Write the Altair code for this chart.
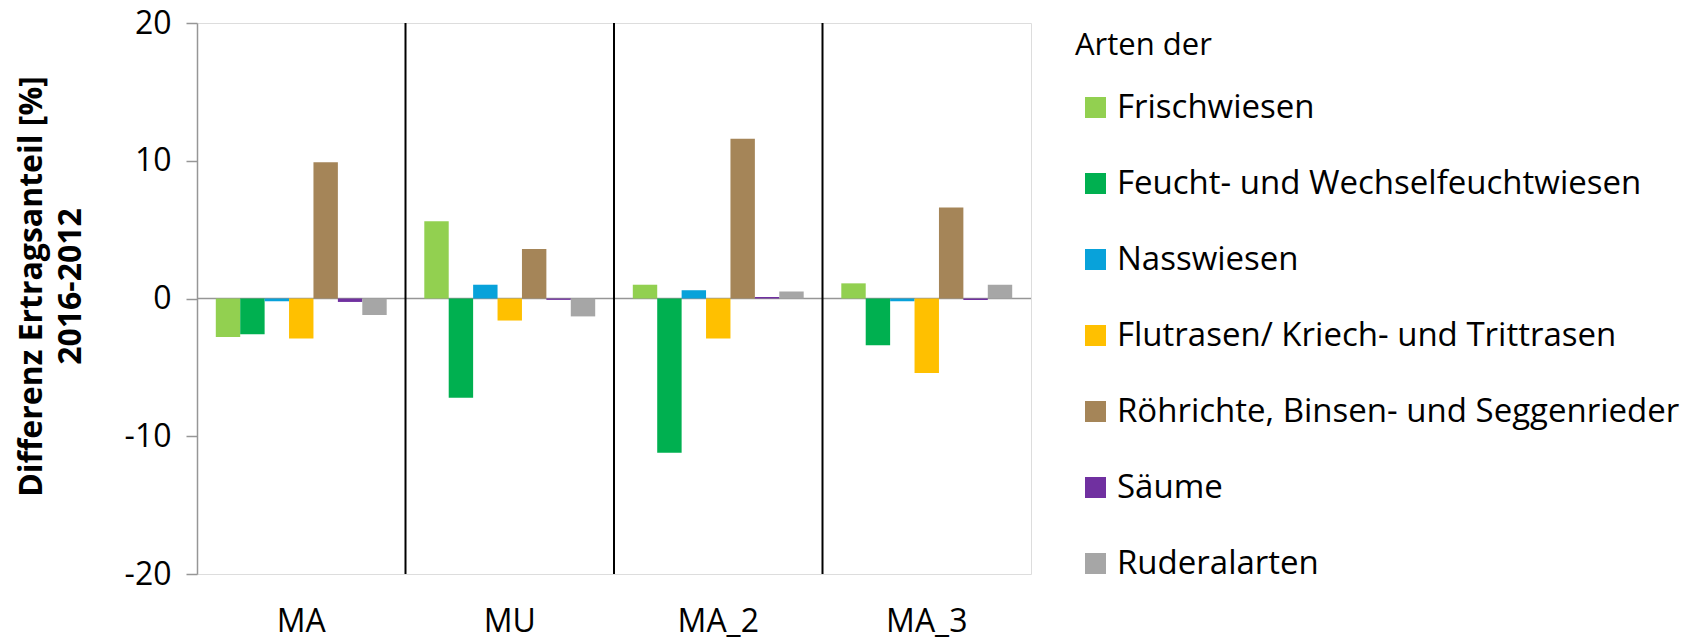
import altair as alt
import pandas as pd

# Plots (x groups) and species groups (colour series)
flaechen = ["MA", "MU", "MA_2", "MA_3"]
arten = [
    "Frischwiesen",
    "Feucht- und Wechselfeuchtwiesen",
    "Nasswiesen",
    "Flutrasen/ Kriech- und Trittrasen",
    "Röhrichte, Binsen- und Seggenrieder",
    "Säume",
    "Ruderalarten",
]

# Difference in yield share 2016-2012 [%], one value per plot
frischwiesen = [-2.8, 5.6, 1.0, 1.1]
feuchtwiesen = [-2.6, -7.2, -11.2, -3.4]
nasswiesen = [-0.2, 1.0, 0.6, -0.2]
flutrasen = [-2.9, -1.6, -2.9, -5.4]
roehrichte = [9.9, 3.6, 11.6, 6.6]
saeume = [-0.25, -0.1, 0.1, -0.1]
ruderalarten = [-1.2, -1.3, 0.5, 1.0]

farben = ["#92D050", "#00B050", "#08A2DA", "#FFC000", "#A58558", "#7030A0", "#A6A6A6"]

y_ticks = [-20, -10, 0, 10, 20]
grenzen = ["MU", "MA_2", "MA_3"]

serien = [frischwiesen, feuchtwiesen, nasswiesen, flutrasen, roehrichte, saeume, ruderalarten]
rows = []
for art, werte in zip(arten, serien):
    for fl, v in zip(flaechen, werte):
        rows.append({"Fläche": fl, "Art": art, "Differenz": v})
df = pd.DataFrame(rows)

FONT = "Open Sans"
GRAU = "#969696"
W, H = 834, 551

x_enc = alt.X(
    "Fläche:N",
    sort=flaechen,
    scale=alt.Scale(paddingInner=0, paddingOuter=0),
    axis=alt.Axis(
        title=None, labelAngle=0, ticks=False, domain=False,
        labelFontSize=32, labelPadding=32, labelColor="black", labelFont=FONT,
    ),
)

y_scale = alt.Scale(domain=[-20, 20], nice=False, zero=False)

bars = alt.Chart(df).mark_bar().encode(
    x=x_enc,
    xOffset=alt.XOffset(
        "Art:N", sort=arten, scale=alt.Scale(paddingInner=0, paddingOuter=0.77)
    ),
    y=alt.Y(
        "Differenz:Q",
        scale=y_scale,
        axis=alt.Axis(
            values=y_ticks,
            labelExpr="'' + datum.value",
            grid=False,
            domainColor=GRAU, domainWidth=1.5,
            tickColor=GRAU, tickWidth=1.5, tickSize=11,
            labelFontSize=32, labelPadding=15, labelColor="black", labelFont=FONT,
            title=["Differenz Ertragsanteil [%]", "2016-2012"],
            titleFont=FONT, titleFontSize=32, titleFontWeight="bold",
            titleColor="black", titleLineHeight=39,
            titleAngle=270, titleAlign="center", titleBaseline="middle",
            titleX=-166, titleY=263,
        ),
    ),
    color=alt.Color(
        "Art:N",
        sort=arten,
        scale=alt.Scale(domain=arten, range=farben),
        legend=alt.Legend(
            title="Arten der",
            orient="none", legendX=878, legendY=8,
            titleFont=FONT, titleFontSize=31, titleFontWeight="normal",
            titleColor="black", titlePadding=29,
            labelFont=FONT, labelFontSize=33, labelColor="black",
            labelOffset=5, labelLimit=800,
            symbolType="square", symbolSize=441, symbolStrokeWidth=0,
            symbolOffset=4, rowPadding=42, padding=0,
        ),
    ),
)

zero = alt.Chart(pd.DataFrame({"y": [0]})).mark_rule(
    color=GRAU, strokeWidth=1.5
).encode(y=alt.Y("y:Q", scale=y_scale))

dividers = alt.Chart(pd.DataFrame({"Fläche": grenzen})).mark_rule(
    color="black", strokeWidth=2
).encode(x=alt.X("Fläche:N", sort=flaechen, bandPosition=0))

chart = (
    alt.layer(zero, bars, dividers)
    .properties(
        width=W, height=H,
        autosize=alt.AutoSizeParams(type="none"),
        padding={"left": 197, "top": 23, "right": 1688 - 197 - W, "bottom": 641 - 23 - H},
        background="white",
    )
    .configure_view(stroke=GRAU, strokeWidth=1.5)
    .configure(font=FONT)
)

chart.save("out.html", embed_options={"renderer": "svg", "actions": False})
